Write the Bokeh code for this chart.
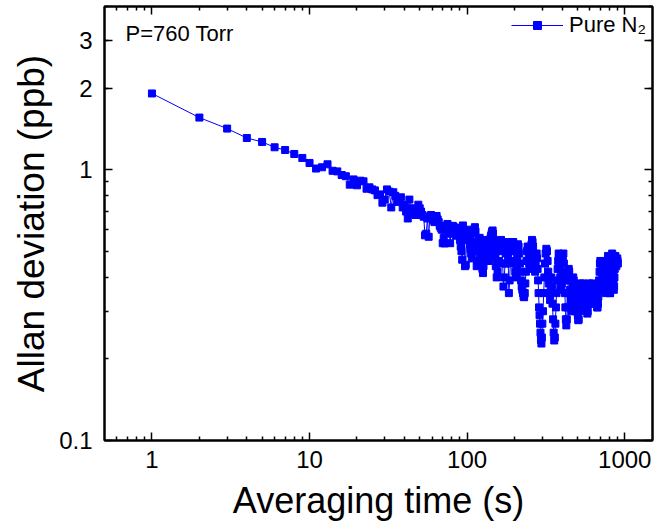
from bokeh.plotting import figure
from bokeh.models import (LogAxis, FixedTicker, Label, Legend, LegendItem, ColumnDataSource,
                          NumeralTickFormatter)
from bokeh.embed import file_html
from bokeh.resources import INLINE

# ---- data (averaging time in s, Allan deviation in ppb) ----
tau_1_45 = list(range(1, 46))
adev_1_45 = [1.91, 1.556, 1.417, 1.308, 1.265, 1.209, 1.181, 1.142, 1.104, 1.058,
             1.009, 1.02, 1.046, 0.99, 0.985, 0.955, 0.945, 0.88, 0.92, 0.875,
             0.91, 0.905, 0.85, 0.86, 0.845, 0.838, 0.805, 0.81, 0.755, 0.775,
             0.845, 0.83, 0.725, 0.825, 0.80, 0.76, 0.775, 0.79, 0.725, 0.74,
             0.70, 0.66, 0.775, 0.72, 0.70]

tau_46_100 = list(range(46, 101))
adev_46_100 = [0.69, 0.68, 0.70, 0.742, 0.72, 0.70, 0.68, 0.67, 0.572, 0.58,
               0.66, 0.565, 0.67, 0.68, 0.66, 0.65, 0.64, 0.66, 0.674, 0.655,
               0.64, 0.62, 0.61, 0.60, 0.535, 0.56, 0.534, 0.60, 0.62, 0.63,
               0.61, 0.59, 0.535, 0.58, 0.60, 0.62, 0.615, 0.60, 0.58, 0.57,
               0.59, 0.61, 0.60, 0.58, 0.55, 0.52, 0.50, 0.465, 0.622, 0.60,
               0.55, 0.44, 0.445, 0.56, 0.58]

tau_101_150 = list(range(101, 151))
adev_101_150 = [0.60, 0.57, 0.55, 0.53, 0.51, 0.49, 0.47, 0.50, 0.54, 0.58,
                0.60, 0.613, 0.59, 0.52, 0.44, 0.46, 0.50, 0.53, 0.55, 0.56,
                0.54, 0.51, 0.48, 0.45, 0.43, 0.415, 0.44, 0.47, 0.50, 0.52,
                0.54, 0.55, 0.53, 0.51, 0.49, 0.47, 0.46, 0.48, 0.51, 0.54,
                0.56, 0.57, 0.58, 0.59, 0.596, 0.58, 0.55, 0.52, 0.49, 0.47]

tau_152_300 = list(range(152, 301, 2))
adev_152_300 = [0.44, 0.40, 0.42, 0.46, 0.50, 0.53, 0.55, 0.54, 0.45, 0.37,
                0.40, 0.45, 0.49, 0.52, 0.54, 0.47, 0.35, 0.39, 0.45, 0.50,
                0.53, 0.54, 0.54, 0.50, 0.46, 0.42, 0.40, 0.43, 0.47, 0.53,
                0.52, 0.49, 0.45, 0.42, 0.39, 0.37, 0.36, 0.35, 0.34, 0.338,
                0.35, 0.38, 0.42, 0.46, 0.50, 0.52, 0.51, 0.48, 0.45, 0.43,
                0.46, 0.50, 0.53, 0.55, 0.54, 0.52, 0.49, 0.46, 0.44, 0.42,
                0.44, 0.47, 0.49, 0.47, 0.43, 0.39, 0.35, 0.31, 0.29, 0.27,
                0.25, 0.235, 0.228, 0.24, 0.27]

tau_303_600 = list(range(303, 601, 3))
adev_303_600 = [0.30, 0.35, 0.40, 0.45, 0.49, 0.51, 0.50, 0.46, 0.42, 0.38,
                0.35, 0.33, 0.36, 0.40, 0.37, 0.32, 0.28, 0.25, 0.234, 0.24,
                0.27, 0.31, 0.35, 0.39, 0.43, 0.46, 0.49, 0.48, 0.44, 0.40,
                0.37, 0.36, 0.38, 0.42, 0.46, 0.49, 0.45, 0.40, 0.35, 0.31,
                0.28, 0.266, 0.28, 0.31, 0.35, 0.39, 0.43, 0.42, 0.39, 0.36,
                0.33, 0.31, 0.30, 0.32, 0.35, 0.38, 0.40, 0.39, 0.36, 0.33,
                0.31, 0.30, 0.32, 0.35, 0.37, 0.34, 0.31, 0.29, 0.278, 0.28,
                0.30, 0.33, 0.36, 0.38, 0.37, 0.35, 0.33, 0.32, 0.34, 0.36,
                0.38, 0.37, 0.35, 0.33, 0.32, 0.33, 0.35, 0.37, 0.36, 0.34,
                0.32, 0.30, 0.294, 0.30, 0.32, 0.35, 0.37, 0.38, 0.36, 0.34]

tau_604_904 = list(range(604, 905, 4))
adev_604_904 = [0.33, 0.32, 0.33, 0.35, 0.37, 0.38, 0.37, 0.35, 0.33, 0.32,
                0.33, 0.35, 0.37, 0.36, 0.34, 0.32, 0.31, 0.31, 0.32, 0.34,
                0.36, 0.39, 0.42, 0.45, 0.46, 0.45, 0.42, 0.39, 0.37, 0.36,
                0.37, 0.40, 0.43, 0.45, 0.46, 0.44, 0.41, 0.38, 0.36, 0.35,
                0.36, 0.38, 0.40, 0.43, 0.46, 0.48, 0.47, 0.44, 0.40, 0.37,
                0.35, 0.35, 0.37, 0.40, 0.43, 0.46, 0.48, 0.49, 0.47, 0.44,
                0.41, 0.38, 0.36, 0.37, 0.40, 0.43, 0.46, 0.48, 0.47, 0.45,
                0.44, 0.45, 0.46, 0.47, 0.46, 0.45]

tau = tau_1_45 + tau_46_100 + tau_101_150 + tau_152_300 + tau_303_600 + tau_604_904
adev = adev_1_45 + adev_46_100 + adev_101_150 + adev_152_300 + adev_303_600 + adev_604_904

x_major = [1, 10, 100, 1000]
y_major = [0.1, 1, 2, 3]
series_label = "Pure N\u2082"
note_text = "P=760 Torr"

FONT = "Liberation Sans"
BLUE = "#0000FF"

src = ColumnDataSource(dict(tau=tau, adev=adev))

p = figure(width=657, height=527, x_axis_type="log", y_axis_type="log",
           x_range=(0.5, 1500), y_range=(0.1, 4),
           output_backend="svg", toolbar_location=None,
           min_border_left=104, min_border_right=5, min_border_top=6, min_border_bottom=87)
p.grid.visible = False
p.outline_line_color = "black"
p.outline_line_width = 2
p.background_fill_color = "white"
p.border_fill_color = "white"

ln = p.line("tau", "adev", source=src, line_color=BLUE, line_width=1)
sc = p.scatter("tau", "adev", source=src, marker="square", size=7,
               fill_color=BLUE, line_color=BLUE, line_width=1)

x_minor = [m * 10.0 ** e for e in range(-1, 3) for m in range(2, 10) if 0.5 < m * 10.0 ** e < 1500]
y_minor = [m * 10.0 ** e for e in range(-1, 1) for m in range(2, 10) if 0.1 < m * 10.0 ** e <= 4]


def style(ax, show_labels=True):
    ax.axis_line_width = 2
    ax.axis_line_color = "black"
    ax.major_tick_in = 8
    ax.major_tick_out = 0
    ax.minor_tick_in = 4
    ax.minor_tick_out = 0
    ax.major_tick_line_width = 1.5
    ax.minor_tick_line_width = 1.5
    ax.major_tick_line_color = "black"
    ax.minor_tick_line_color = "black"
    if show_labels:
        ax.major_label_text_font = FONT
        ax.major_label_text_font_size = "24px"
        ax.major_label_text_color = "black"
        ax.formatter = NumeralTickFormatter(format="0.[0]")
    else:
        ax.major_label_text_font_size = "2px"
        ax.major_label_text_alpha = 0
        ax.major_label_standoff = 0


xa = p.xaxis[0]
xa.ticker = FixedTicker(ticks=x_major, minor_ticks=x_minor)
style(xa)
xa.major_label_standoff = 10
xa.axis_label = "Averaging time (s)"
xa.axis_label_text_font = FONT
xa.axis_label_text_font_size = "36px"
xa.axis_label_text_font_style = "normal"
xa.axis_label_text_color = "black"
xa.axis_label_standoff = 9

ya = p.yaxis[0]
ya.ticker = FixedTicker(ticks=y_major, minor_ticks=y_minor)
style(ya)
ya.major_label_standoff = 12
ya.axis_label = "Allan deviation (ppb)"
ya.axis_label_text_font = FONT
ya.axis_label_text_font_size = "37px"
ya.axis_label_text_font_style = "normal"
ya.axis_label_text_color = "black"
ya.axis_label_standoff = 4

top = LogAxis(ticker=FixedTicker(ticks=x_major, minor_ticks=x_minor))
style(top, show_labels=False)
p.add_layout(top, "above")
right = LogAxis(ticker=FixedTicker(ticks=y_major, minor_ticks=y_minor))
style(right, show_labels=False)
p.add_layout(right, "right")

note = Label(x=0.68, y=3.19, text=note_text, text_font=FONT, text_font_size="22px",
             text_color="black", text_align="left", text_baseline="alphabetic")
p.add_layout(note)

legend = Legend(items=[LegendItem(label=series_label, renderers=[ln, sc])],
                location="top_right", border_line_color=None, background_fill_alpha=0,
                label_text_font=FONT, label_text_font_size="22px", label_text_color="black",
                glyph_width=52, glyph_height=20, label_standoff=6,
                padding=2, margin=6, spacing=0)
p.add_layout(legend)

open("out.html", "w").write(file_html(p, INLINE))
